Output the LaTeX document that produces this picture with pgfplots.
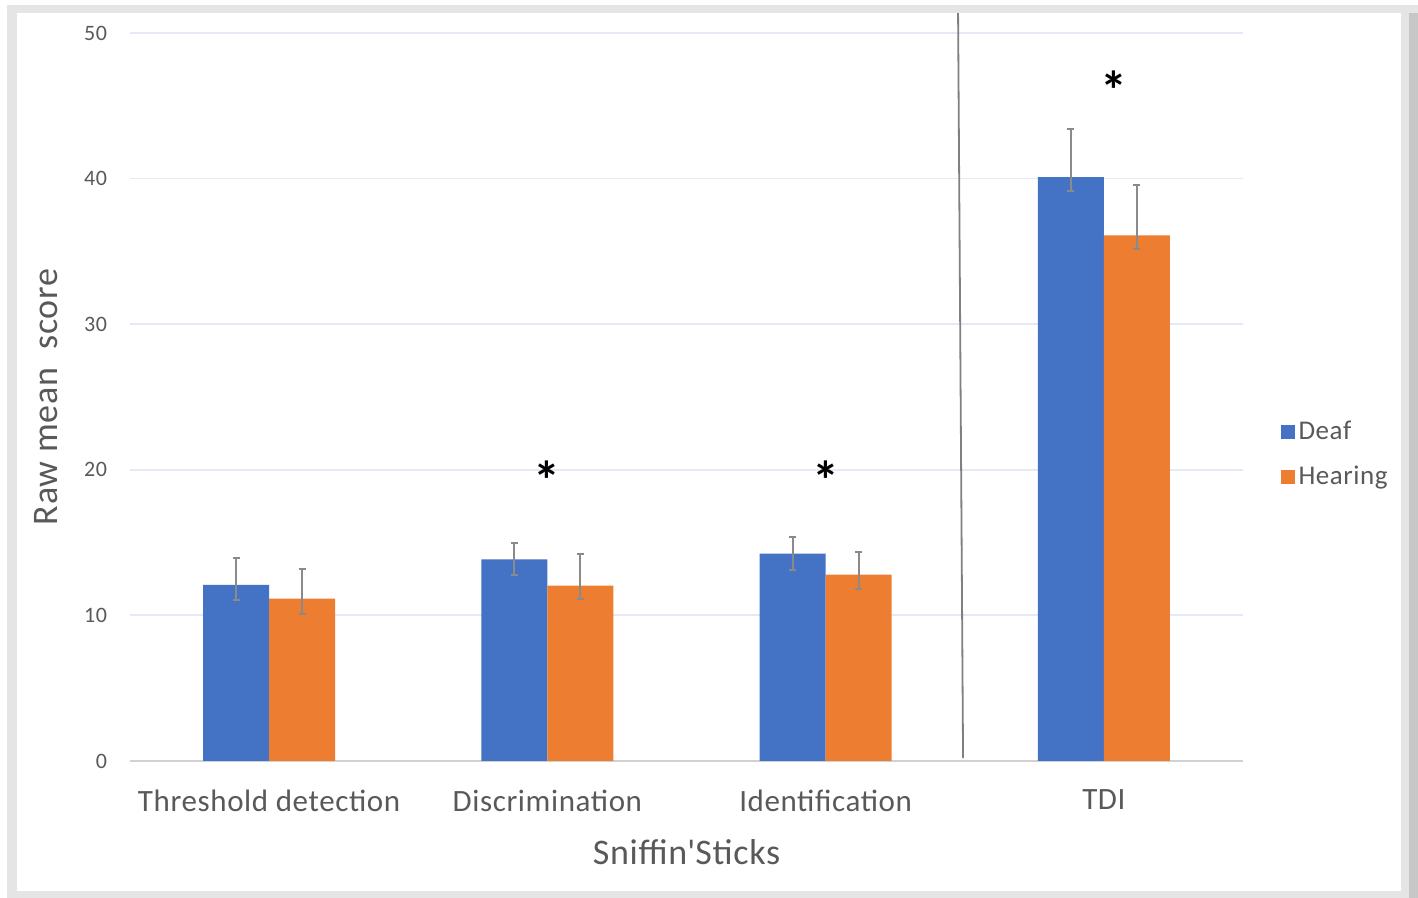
\documentclass[border=0pt]{standalone}
\usepackage{pgfplots}
\pgfplotsset{compat=1.18}
\usepackage{pgfplotstable}
\usepackage{fontspec}
\setmainfont{Carlito}[LetterSpace=2]
\definecolor{deaf}{HTML}{4472C4}
\definecolor{hear}{HTML}{ED7D31}
\definecolor{txt}{HTML}{595959}
\definecolor{gridc}{HTML}{E4E9F5}
\definecolor{errc}{HTML}{8A8A8A}
\pgfplotstableread{
x y ep em
0 12.1 1.85 1.05
1 13.85 1.1 1.1
2 14.25 1.12 1.1
3 40.1 3.3 0.95
}\deaf
\pgfplotstableread{
x y ep em
0 11.15 2.05 1.05
1 12.05 2.15 0.9
2 12.8 1.55 0.97
3 36.1 3.45 0.95
}\hearing
\begin{document}
\begin{tikzpicture}
% frame
\useasboundingbox (-65pt,-68.5pt) rectangle (644pt,380.5pt);
\fill[white] (-65pt,-68.5pt) rectangle (644pt,380.5pt);
\fill[black!10] (-61.5pt,-68.5pt) rectangle (644pt,378pt);
\fill[black!22] (639.5pt,-68.5pt) rectangle (644pt,374pt);
\fill[white] (-56.5pt,-65pt) rectangle (635.5pt,374pt);
\begin{axis}[
  scale only axis,
  width=556.5pt, height=364pt,
  ybar=0pt, bar width=33pt,
  xmin=-0.5, xmax=3.5,
  ymin=0, ymax=50,
  ytick={0,10,...,50},
  xtick={0,1,2,3},
  xticklabels={Threshold detection,Discrimination,Identification,TDI},
  axis line style={draw=none},
  major tick length=0pt,
  ymajorgrids,
  grid style={gridc, line width=0.9pt},
  tick label style={text=txt},
  yticklabel style={font=\fontsize{11}{12}\selectfont, xshift=-8pt},
  xticklabel style={font=\fontsize{15.5}{17}\selectfont, yshift=-11pt},
  /pgf/number format/assume math mode=true,
  xlabel={Sniffin\textquotesingle Sticks},
  ylabel={Raw mean\ \ score},
  label style={text=txt, font=\fontsize{18}{20}\selectfont},
  xlabel style={yshift=-7pt},
  ylabel style={yshift=6.5pt},
  clip=false,
  legend style={draw=none, fill=none, at={(1.028,0.421)}, anchor=west,
    font=\fontsize{13.5}{15}\selectfont, text=txt, row sep=7.5pt,
    /tikz/every odd column/.append style={column sep=0pt}},
  legend cell align=left,
  legend image code/.code={\fill[#1] (10pt,-3.5pt) rectangle (17pt,3.5pt);},
]
\draw[black!18, line width=0.9pt] (axis cs:-0.5,0) -- (axis cs:3.5,0);
\addplot[fill=deaf, draw=none,
  error bars/.cd, y dir=both, y explicit,
  error bar style={errc, line width=1pt},
  error mark options={rotate=90, errc, line width=1pt, mark size=1.7pt}]
  table[x=x, y=y, y error plus=ep, y error minus=em]{\deaf};
\addplot[fill=hear, draw=none,
  error bars/.cd, y dir=both, y explicit,
  error bar style={errc, line width=1pt},
  error mark options={rotate=90, errc, line width=1pt, mark size=1.7pt}]
  table[x=x, y=y, y error plus=ep, y error minus=em]{\hearing};
\legend{Deaf, Hearing}
\draw[black!50, line width=0.9pt] (axis cs:2.476,51.37) -- (axis cs:2.494,0.2);
\node[font=\fontsize{27}{28}\selectfont\bfseries] at (axis cs:1,19.3) {*};
\node[font=\fontsize{27}{28}\selectfont\bfseries] at (axis cs:2,19.3) {*};
\node[font=\fontsize{27}{28}\selectfont\bfseries] at (axis cs:3.035,46.1) {*};
\end{axis}
\end{tikzpicture}
\end{document}
